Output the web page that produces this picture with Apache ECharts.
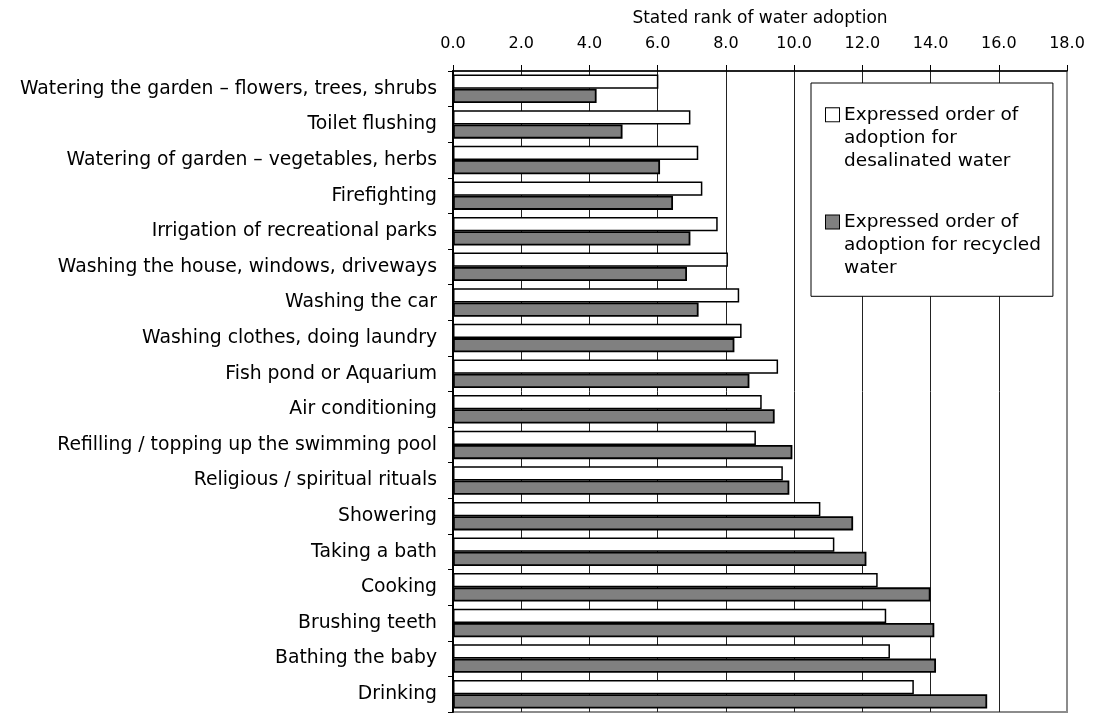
<!DOCTYPE html>
<html>
<head>
<meta charset="utf-8">
<title>Stated rank of water adoption</title>
<script src="https://cdn.jsdelivr.net/npm/echarts@6/dist/echarts.min.js"></script>
<style>
  html, body { margin: 0; padding: 0; background: #fff; }
  #chart { width: 1095px; height: 720px; }
</style>
</head>
<body>
<div id="chart"></div>
<script>
// Uses of water, listed from most to least readily adopted
const categories = [
  'Watering the garden – flowers, trees, shrubs',
  'Toilet flushing',
  'Watering of garden – vegetables, herbs',
  'Firefighting',
  'Irrigation of recreational parks',
  'Washing the house, windows, driveways',
  'Washing the car',
  'Washing clothes, doing laundry',
  'Fish pond or Aquarium',
  'Air conditioning',
  'Refilling / topping up the swimming pool',
  'Religious / spiritual rituals',
  'Showering',
  'Taking a bath',
  'Cooking',
  'Brushing teeth',
  'Bathing the baby',
  'Drinking'
];

// Mean stated rank, desalinated water
const desalinated = [6.02, 6.96, 7.19, 7.31, 7.76, 8.06, 8.39, 8.46, 9.53, 9.05, 8.88, 9.67, 10.77, 11.18, 12.45, 12.70, 12.81, 13.51];

// Mean stated rank, recycled water
const recycled = [4.21, 4.97, 6.07, 6.45, 6.96, 6.86, 7.20, 8.25, 8.69, 9.43, 9.95, 9.86, 11.73, 12.12, 14.00, 14.11, 14.16, 15.66];

const seriesNames = [
  'Expressed order of adoption for desalinated water',
  'Expressed order of adoption for recycled water'
];
// Wrapped legend wording, one array of lines per series
const legendLines = [
  ['Expressed order of', 'adoption for', 'desalinated water'],
  ['Expressed order of', 'adoption for recycled', 'water']
];
const seriesColors = ['#ffffff', '#808080'];

const axisTitle = 'Stated rank of water adoption';
const rankMin = 0, rankMax = 18, rankStep = 2;

const FONT = 'DejaVu Sans';
const LEGEND_LINE = 23.3;

const chart = echarts.init(document.getElementById('chart'), null, { renderer: 'canvas' });

// Legend swatch sits on the first text line; later lines are indented to match
function legendRich() {
  const rich = {
    t: { fontFamily: FONT, fontSize: 18.5, lineHeight: LEGEND_LINE, color: '#000', padding: [0, 0, 0, 5] },
    ind: { width: 13, height: 13, lineHeight: LEGEND_LINE }
  };
  seriesColors.forEach(function (c, i) {
    rich['sq' + i] = {
      width: 13, height: 13, lineHeight: LEGEND_LINE,
      backgroundColor: c, borderColor: '#000', borderWidth: 1
    };
  });
  return rich;
}

chart.setOption({
  animation: false,
  backgroundColor: '#fff',
  textStyle: { fontFamily: FONT, color: '#000' },
  grid: {
    left: 453, top: 71, right: 28, bottom: 8,
    show: true,
    backgroundColor: 'transparent',
    borderColor: '#8c8c8c',
    borderWidth: 2
  },
  legend: {
    orient: 'vertical',
    left: 811,
    top: 83,
    padding: [22.3, 12, 18.2, 10],
    backgroundColor: '#fff',
    borderColor: '#000',
    borderWidth: 1,
    borderRadius: 0,
    icon: 'none',
    itemWidth: 0,
    itemHeight: 13,
    itemGap: 41.6,
    selectedMode: false,
    formatter: function (name) {
      const i = seriesNames.indexOf(name);
      return legendLines[i].map(function (line, k) {
        return (k === 0 ? '{sq' + i + '|}' : '{ind|}') + '{t|' + line + '}';
      }).join('\n');
    },
    textStyle: {
      fontFamily: FONT,
      fontSize: 18.5,
      color: '#000',
      rich: legendRich()
    },
    data: seriesNames
  },
  xAxis: {
    type: 'value',
    position: 'top',
    min: rankMin,
    max: rankMax,
    interval: rankStep,
    name: axisTitle,
    nameLocation: 'middle',
    nameGap: 44,
    nameTextStyle: { fontFamily: FONT, fontSize: 17, color: '#000' },
    axisLine: { show: true, lineStyle: { color: '#000', width: 1.5 } },
    axisTick: { show: true, inside: false, length: 6, lineStyle: { color: '#000', width: 1 } },
    axisLabel: {
      margin: 19,
      fontFamily: FONT,
      fontSize: 16,
      color: '#000',
      formatter: function (v) { return v.toFixed(1); }
    },
    splitLine: {
      show: true,
      showMinLine: false,
      showMaxLine: false,
      lineStyle: { color: '#222', width: 1 }
    }
  },
  yAxis: {
    type: 'category',
    data: categories,
    inverse: true,
    axisLine: { show: true, lineStyle: { color: '#000', width: 2 } },
    axisTick: { show: true, inside: false, length: 5, lineStyle: { color: '#000', width: 1 } },
    axisLabel: {
      margin: 16,
      fontFamily: FONT,
      fontSize: 18.8,
      color: '#000',
      interval: 0
    },
    splitLine: { show: false }
  },
  series: [
    {
      name: seriesNames[0],
      type: 'bar',
      data: desalinated,
      barGap: '0%',
      barCategoryGap: '20%',
      itemStyle: { color: seriesColors[0], borderColor: '#000', borderWidth: 1.5 },
      z: 3
    },
    {
      name: seriesNames[1],
      type: 'bar',
      data: recycled,
      barGap: '0%',
      barCategoryGap: '20%',
      itemStyle: { color: seriesColors[1], borderColor: '#000', borderWidth: 1.8 },
      z: 3
    }
  ]
});
</script>
</body>
</html>
